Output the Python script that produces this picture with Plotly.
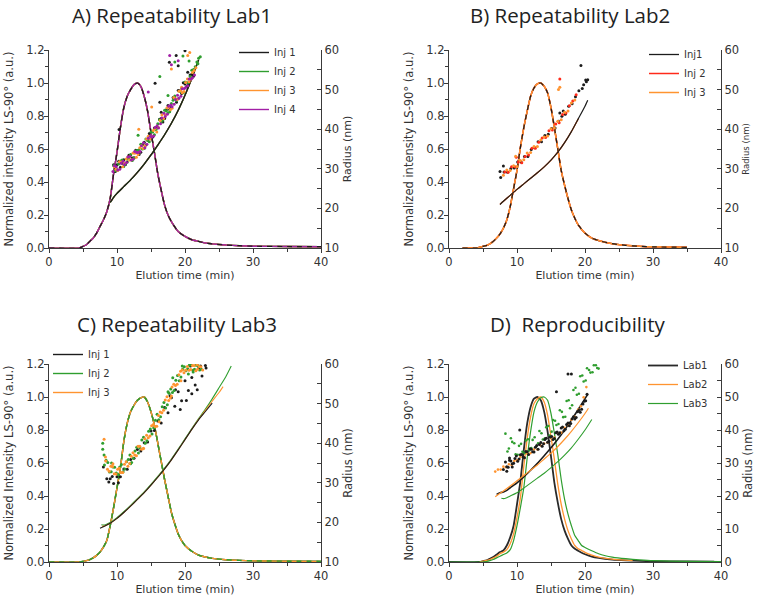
import plotly.graph_objects as go

W, H = 758, 598
BLACK = '#1c1c1c'
GREEN = '#2f9e2f'
ORANGE = '#ff9430'
PURPLE = '#a21fa6'
RED = '#ff2a1a'
AXC = '#3a3a3a'
TXT = '#333333'
FONT = 'DejaVu Sans'
TFONT = 'Open Sans'

# ---------------- Panel A : Repeatability Lab1 ----------------
A_PEAK_T = [0, 4.5, 5, 5.5, 6, 6.5, 7, 7.5, 8, 8.5, 9, 9.5, 10, 10.5, 11, 11.5, 12, 12.5, 13, 13.5,
            14, 14.5, 15, 15.5, 16, 16.5, 17, 17.5, 18, 19, 20, 21, 22, 23, 24, 26, 28, 30, 35, 40]
A_PEAK = [0, 0, 0.01, 0.02, 0.04, 0.06, 0.09, 0.13, 0.17, 0.22, 0.30, 0.45, 0.58, 0.73, 0.85, 0.92, 0.96, 0.99, 1.0, 0.98,
          0.92, 0.83, 0.70, 0.58, 0.45, 0.35, 0.26, 0.20, 0.16, 0.10, 0.07, 0.05, 0.04, 0.03, 0.025, 0.018, 0.014, 0.011, 0.009, 0.008]
A_RLINE_T = [9.0, 9.5, 10, 11, 12, 13, 14, 15, 16, 17, 18, 19, 20, 21, 22]
A_RLINE = [21.5, 22.8, 23.8, 25.5, 27.2, 29.1, 31.2, 33.5, 36.0, 38.6, 41.5, 44.8, 48.6, 52.8, 57.5]

A_INJ1_T = [9.5, 10, 10.5, 11, 11.5, 12, 12.5, 13, 13.5, 14, 14.5, 15, 15.5, 16, 16.5, 17, 17.5, 18, 18.5, 19, 19.5, 20, 20.5, 21,
            9.75, 10.25, 10.75, 11.25, 11.75, 12.25, 12.75, 13.25, 13.75, 14.25, 14.75, 15.25, 15.75, 16.25, 16.75, 17.25,
            17.75, 18.25, 18.75, 19.25, 19.75, 20.25, 20.75, 21.25,
            10.3, 15.6, 16.3, 16.5, 17.7, 18.7, 19.0, 20.0, 20.4]
A_INJ1_R = [31.0, 31.0, 30.4, 32.3, 31.7, 33.5, 32.8, 34.6, 34.2, 36.7, 37.2, 37.6, 40.3, 40.4, 42.7, 42.7, 46.0, 45.7, 47.9, 49.8, 49.0, 51.4, 51.4, 53.8,
            29.3, 31.9, 31.4, 31.1, 33.4, 32.7, 34.7, 33.6, 36.1, 36.0, 38.9, 38.0, 40.4, 42.5, 41.8, 44.9,
            45.0, 48.0, 46.8, 49.7, 51.7, 50.8, 53.7, 53.4,
            39.9, 51.6, 46.8, 44.3, 56.9, 58.6, 56.0, 59.8, 54.4]
A_INJ2_T = [9.75, 10.25, 10.75, 11.25, 11.75, 12.25, 12.75, 13.25, 13.75, 14.25, 14.75, 15.25, 15.75, 16.25, 16.75, 17.25, 17.75,
            18.25, 18.75, 19.25, 19.75, 20.25, 20.75, 21.25, 21.75, 22.25,
            9.5, 10, 10.5, 11, 11.5, 12, 12.5, 13, 13.5, 14, 14.5, 15, 15.5, 16, 16.5, 17, 17.5, 18, 18.5, 19, 19.5, 20,
            20.5, 21, 21.5, 22,
            16.3, 18.5, 19.7, 20.6, 13.1, 17.5, 21.9]
A_INJ2_R = [29.5, 31.2, 32.2, 31.2, 32.7, 32.1, 34.5, 34.8, 35.0, 37.5, 36.8, 39.3, 39.9, 42.4, 42.3, 44.6, 44.4,
            47.3, 47.3, 49.5, 49.2, 51.7, 53.3, 55.1, 57.0, 58.3,
            30.8, 29.8, 32.0, 30.6, 32.5, 33.6, 32.7, 34.6, 36.2, 35.1, 37.3, 39.3, 38.6, 41.4, 41.9, 44.8, 44.1, 46.5, 48.4, 47.7, 50.4, 51.9,
            51.8, 54.9, 55.8, 57.9,
            53.3, 57.0, 58.5, 57.2, 38.5, 48.5, 56.5]
A_INJ3_T = [9.6, 10.1, 10.6, 11.1, 11.6, 12.1, 12.6, 13.1, 13.6, 14.1, 14.6, 15.1, 15.6, 16.1, 16.6, 17.1, 17.6, 18.1, 18.6,
            19.1, 19.6, 20.1, 20.6, 21.1, 21.6,
            9.85, 10.35, 10.85, 11.35, 11.85, 12.35, 12.85, 13.35, 13.85, 14.35, 14.85, 15.35, 15.85, 16.35, 16.85, 17.35,
            17.85, 18.35, 18.85, 19.35, 19.85, 20.35, 20.85, 21.35,
            13.2, 20.4, 20.7, 15.1, 18.0, 19.5]
A_INJ3_R = [30.5, 29.6, 31.7, 31.4, 33.0, 32.3, 33.9, 33.6, 35.8, 35.8, 38.2, 38.1, 40.2, 40.4, 43.6, 43.6, 45.6, 45.3, 47.7,
            49.6, 49.2, 51.8, 52.0, 54.3, 55.5,
            29.9, 31.8, 30.5, 32.5, 32.2, 34.0, 32.9, 35.3, 35.1, 37.5, 37.5, 39.7, 39.3, 42.2, 42.7, 45.4,
            44.9, 48.0, 47.5, 49.7, 49.5, 52.7, 52.6, 54.8,
            40.0, 58.6, 59.4, 45.6, 55.2, 50.6]
A_INJ4_T = [9.4, 9.9, 10.4, 10.9, 11.4, 11.9, 12.4, 12.9, 13.4, 13.9, 14.4, 14.9, 15.4, 15.9, 16.4, 16.9, 17.4, 17.9, 18.4,
            18.9, 19.4, 19.9, 20.4, 20.9, 21.4,
            9.6, 10.1, 10.6, 11.1, 11.6, 12.1, 12.6, 13.1, 13.6, 14.1, 14.6, 15.1, 15.6, 16.1, 16.6, 17.1, 17.6, 18.1,
            18.6, 19.1, 19.6, 20.1, 20.6, 21.1,
            14.6, 17.75, 19.0, 18.0]
A_INJ4_R = [29.3, 30.5, 29.9, 31.9, 31.6, 33.1, 32.5, 34.1, 34.4, 36.6, 36.2, 38.2, 38.3, 40.9, 41.4, 44.0, 43.8, 46.1, 46.3,
            48.6, 48.3, 50.3, 51.0, 52.7, 53.7,
            30.8, 29.7, 31.4, 31.1, 33.0, 32.2, 34.4, 34.1, 35.8, 35.3, 37.7, 38.0, 40.4, 40.3, 42.8, 43.2, 45.8, 45.7,
            47.5, 47.8, 50.2, 50.5, 52.7, 53.0,
            49.4, 58.6, 57.3, 56.3]

# ---------------- Panel B : Repeatability Lab2 ----------------
B_PEAK_T = [2, 4, 5, 5.5, 6, 6.5, 7, 7.5, 8, 8.5, 9, 9.5, 10, 10.5, 11, 11.5, 12, 12.5, 13, 13.5,
            14, 14.5, 15, 15.5, 16, 16.5, 17, 17.5, 18, 18.5, 19, 20, 21, 22, 24, 26, 28, 30, 35]
B_PEAK = [0, 0, 0.01, 0.015, 0.025, 0.04, 0.06, 0.085, 0.12, 0.17, 0.25, 0.36, 0.47, 0.61, 0.73, 0.83, 0.92, 0.97, 0.995, 1.0,
          0.98, 0.94, 0.85, 0.73, 0.6, 0.47, 0.38, 0.30, 0.23, 0.18, 0.14, 0.09, 0.06, 0.045, 0.026, 0.016, 0.01, 0.007, 0.004]
B_RLINE_T = [7.5, 8, 9, 10, 11, 12, 13, 14, 15, 16, 17, 18, 19, 20, 20.4]
B_RLINE = [21.0, 21.8, 23.3, 24.8, 26.2, 27.6, 29.0, 30.5, 32.2, 34.2, 36.6, 39.4, 42.6, 45.8, 47.3]

B_INJ1_T = [7.6, 8.1, 8.6, 9.1, 9.6, 10.1, 10.6, 11.1, 11.6, 12.1, 12.6, 13.1, 13.6, 14.1, 14.6, 15.1, 15.6, 16.1, 16.6,
            17.1, 17.6, 18.1, 18.6, 19.1, 19.6, 20.1,
            7.5, 8.0, 19.4, 16.3, 16.8, 20.4, 20.2, 19.8]
B_INJ1_R = [27.8, 29.2, 29.1, 30.1, 30.2, 31.7, 31.7, 33.1, 33.1, 34.9, 35.3, 36.8, 36.8, 38.4, 38.7, 40.2, 40.3, 42.0, 43.3,
            43.8, 45.8, 46.4, 48.2, 49.7, 50.3, 52.4,
            29.3, 30.7, 56.1, 44.1, 44.6, 52.5, 52.0, 51.2]
B_INJ2_T = [8.2, 8.7, 9.2, 9.7, 10.2, 10.7, 11.2, 11.7, 12.2, 12.7, 13.2, 13.7, 14.2, 14.7, 15.2, 15.7, 16.2, 16.7, 17.2,
            17.7, 18.2, 18.7, 16.3, 9.9]
B_INJ2_R = [29.2, 29.1, 30.5, 30.5, 31.7, 31.5, 33.1, 33.5, 35.2, 35.2, 36.7, 37.8, 37.9, 39.6, 39.8, 41.3, 41.6, 43.7, 44.1,
            45.9, 47.1, 48.7, 52.7, 32.9]
B_INJ3_T = [8.0, 8.5, 9.0, 9.5, 10.0, 10.5, 11.0, 11.5, 12.0, 12.5, 13.0, 13.5, 14.0, 14.5, 15.0, 15.5, 16.0, 16.5, 17.0,
            17.5, 18.0, 18.5, 16.3, 16.1, 9.8]
B_INJ3_R = [28.4, 29.7, 29.6, 30.8, 30.6, 32.1, 32.3, 34.0, 34.1, 35.6, 35.6, 37.3, 38.0, 38.3, 40.1, 40.3, 42.0, 42.4, 44.3,
            44.6, 46.6, 47.4, 50.6, 50.0, 33.2]

# ---------------- Panel C : Repeatability Lab3 ----------------
C_PEAK_T = [0, 4.5, 5, 5.5, 6, 6.5, 7, 7.5, 8, 8.5, 9, 9.5, 10, 10.5, 11, 11.5, 12, 12.5, 13, 13.5, 14, 14.5,
            15, 15.5, 16, 16.5, 17, 17.5, 18, 18.5, 19, 19.5, 20, 21, 22, 23, 24, 26, 28, 30, 32, 35, 40]
C_PEAK = [0, 0, 0.003, 0.008, 0.015, 0.025, 0.04, 0.06, 0.09, 0.13, 0.22, 0.33, 0.45, 0.57, 0.73, 0.84, 0.91, 0.95, 0.98, 0.995, 1.0, 0.97,
          0.91, 0.83, 0.72, 0.61, 0.50, 0.40, 0.30, 0.23, 0.17, 0.13, 0.10, 0.065, 0.042, 0.03, 0.022, 0.014, 0.01, 0.007, 0.006, 0.005, 0.004]
C_RLINE1_T = [7.5, 8, 9, 10, 11, 12, 13, 14, 15, 16, 17, 18, 19, 20, 21, 22, 23, 24]
C_RLINE1 = [18.5, 18.9, 19.8, 21.0, 22.5, 24.1, 25.8, 27.5, 29.4, 31.4, 33.5, 35.8, 38.3, 40.9, 43.5, 45.9, 48.0, 50.1]
C_RLINE2_T = [7.7, 8, 9, 10, 11, 12, 13, 14, 15, 16, 17, 18, 19, 20, 21, 22, 23, 24, 25, 26, 26.8]
C_RLINE2 = [19.4, 19.3, 20.0, 21.2, 22.7, 24.3, 26.0, 27.7, 29.6, 31.6, 33.7, 36.0, 38.5, 41.1, 43.7, 46.2, 48.6, 51.2, 54.0, 56.8, 59.5]
C_RLINE3_T = [7.8, 8, 9, 10, 11, 12, 13, 14, 15, 16, 17, 18, 19, 20, 21, 22, 23, 24, 25, 25.6]
C_RLINE3 = [19.0, 19.0, 19.8, 21.0, 22.5, 24.1, 25.8, 27.5, 29.4, 31.4, 33.5, 35.8, 38.3, 40.9, 43.5, 46.0, 48.3, 50.6, 52.8, 54.3]

C_INJ1_T = [8.0, 8.5, 9.0, 9.5, 10.0, 10.5, 11.0, 11.5, 12.0, 12.5, 13.0, 13.5, 14.0, 14.5, 15.0, 15.5, 16.0, 16.5, 17.0, 17.5,
            18.0, 18.5, 19.0, 19.5, 20.0, 20.5, 21.0, 21.5, 22.0, 22.5, 23.0,
            8.8, 9.3, 10.2, 17.8, 18.6, 19.3, 20.2, 21.0, 21.8, 22.3, 23.1, 20.8]
C_INJ1_R = [34.0, 31.0, 31.0, 29.8, 31.5, 31.5, 33.5, 33.4, 35.9, 36.2, 38.4, 38.0, 40.1, 40.3, 43.1, 43.2, 45.6, 45.1, 49.0, 47.7,
            51.5, 49.3, 53.0, 50.7, 55.8, 53.3, 56.6, 54.7, 58.9, 57.0, 59.6,
            30.2, 31.6, 30.0, 52.0, 53.5, 48.5, 50.8, 52.5, 53.5, 59.5, 59.0, 59.5]
C_INJ2_T = [7.9, 8.4, 8.9, 9.4, 9.9, 10.4, 10.9, 11.4, 11.9, 12.4, 12.9, 13.4, 13.9, 14.4, 14.9, 15.4, 15.9, 16.4, 16.9, 17.4,
            17.9, 18.4, 18.9, 19.4, 19.9, 20.4, 20.9, 21.4, 21.9, 22.4,
            8.15, 8.65, 9.15, 9.65, 10.15, 10.65, 11.15, 11.65, 12.15, 12.65, 13.15, 13.65, 14.15, 14.65, 15.15, 15.65,
            16.15, 16.65, 17.15, 17.65, 18.15, 18.65, 19.15, 19.65, 20.15, 20.65, 21.15, 21.65, 22.15,
            7.9, 8.1, 9.2, 12.0, 17.5, 18.2, 19.6, 20.5, 21.2, 22.0]
C_INJ2_R = [40.0, 35.7, 32.7, 34.0, 32.5, 34.0, 32.8, 35.3, 37.0, 36.2, 39.0, 38.7, 41.5, 40.6, 43.6, 43.9, 47.3, 46.7, 50.3, 49.7,
            53.7, 53.3, 57.1, 56.7, 59.3, 58.8, 59.8, 58.7, 59.6, 58.7,
            34.5, 35.1, 32.8, 33.9, 32.1, 34.6, 33.5, 35.9, 35.1, 38.0, 37.5, 40.8, 40.0, 43.0, 42.3, 45.8,
            45.9, 49.2, 48.9, 52.6, 52.8, 55.9, 55.8, 58.7, 58.3, 59.7, 58.4, 59.7, 58.5,
            38.5, 37.0, 35.0, 34.8, 53.0, 56.5, 59.5, 57.5, 58.0, 59.5]
C_INJ3_T = [8.1, 8.6, 9.1, 9.6, 10.1, 10.6, 11.1, 11.6, 12.1, 12.6, 13.1, 13.6, 14.1, 14.6, 15.1, 15.6, 16.1, 16.6, 17.1, 17.6,
            18.1, 18.6, 19.1, 19.6, 20.1, 20.6, 21.1, 21.6, 22.1, 22.6,
            8.35, 8.85, 9.35, 9.85, 10.35, 10.85, 11.35, 11.85, 12.35, 12.85, 13.35, 13.85, 14.35, 14.85, 15.35, 15.85,
            16.35, 16.85, 17.35, 17.85, 18.35, 18.85, 19.35, 19.85, 20.35, 20.85, 21.35, 21.85, 22.35,
            8.3, 9.4, 13.9, 16.2, 18.0, 19.4, 21.8]
C_INJ3_R = [41.0, 33.4, 34.2, 32.3, 33.4, 32.6, 34.7, 34.2, 36.7, 37.0, 39.2, 38.5, 41.1, 41.4, 44.4, 44.2, 47.0, 47.7, 50.9, 50.8,
            54.2, 54.6, 57.3, 58.5, 58.4, 58.4, 59.6, 58.3, 59.4, 58.5,
            35.5, 32.9, 34.1, 32.2, 33.7, 32.6, 35.3, 34.9, 37.6, 36.8, 39.2, 38.6, 42.0, 41.8, 44.7, 44.3,
            47.9, 48.3, 51.7, 51.4, 54.9, 54.9, 58.2, 57.8, 59.4, 58.6, 59.6, 58.7, 59.3,
            36.5, 34.8, 38.7, 45.4, 51.9, 55.8, 59.9]

# ---------------- Panel D : Reproducibility ----------------
D_PEAK1_T = [0, 4.5, 5, 5.5, 6, 6.5, 7, 7.5, 8, 8.5, 9, 9.5, 10, 10.5, 11, 11.5, 12, 12.5, 13, 13.5, 14, 14.5,
             15, 15.5, 16, 16.5, 17, 17.5, 18, 18.5, 19, 19.5, 20, 21, 22, 24, 26, 28, 30, 35, 39]
D_PEAK1 = [0, 0, 0.005, 0.01, 0.02, 0.03, 0.045, 0.06, 0.07, 0.1, 0.15, 0.22, 0.35, 0.49, 0.68, 0.84, 0.94, 0.99, 1.0, 0.98, 0.91, 0.79,
           0.64, 0.48, 0.36, 0.26, 0.19, 0.14, 0.10, 0.08, 0.068, 0.056, 0.047, 0.033, 0.025, 0.015, 0.01, 0.007, 0.005, 0.003, 0.002]
D_PEAK2_T = [4.5, 5, 6, 7, 7.5, 8, 8.5, 9, 9.5, 10, 10.5, 11, 11.5, 12, 12.5, 13, 13.5, 14, 14.5, 15, 15.5, 16, 16.5,
             17, 17.5, 18, 18.5, 19, 19.5, 20, 21, 22, 24, 26, 27]
D_PEAK2 = [0, 0.005, 0.015, 0.035, 0.05, 0.06, 0.075, 0.11, 0.17, 0.27, 0.39, 0.58, 0.75, 0.88, 0.96, 0.99, 1.0, 0.97, 0.89, 0.76, 0.62, 0.47, 0.35,
           0.26, 0.19, 0.14, 0.10, 0.08, 0.07, 0.058, 0.042, 0.03, 0.018, 0.011, 0.008]
D_PEAK3_T = [0, 5, 5.5, 6, 6.5, 7, 7.5, 8, 8.5, 9, 9.5, 10, 10.5, 11, 11.5, 12, 12.5, 13, 13.5, 14, 14.5, 15, 15.5, 16, 16.5,
             17, 17.5, 18, 18.5, 19, 19.5, 20, 21, 22, 23, 24, 26, 28, 30, 35, 40]
D_PEAK3 = [0, 0, 0.003, 0.008, 0.015, 0.025, 0.035, 0.045, 0.055, 0.075, 0.13, 0.22, 0.33, 0.45, 0.63, 0.79, 0.91, 0.97, 0.995, 1.0, 0.98, 0.9, 0.78, 0.65, 0.5,
           0.38, 0.29, 0.22, 0.16, 0.13, 0.10, 0.088, 0.068, 0.05, 0.038, 0.03, 0.02, 0.013, 0.008, 0.004, 0.003]

D_RLINE1_T = [7.0, 7.5, 8, 8.5, 9, 10, 11, 12, 13, 14, 15, 16, 17, 18, 19, 20, 20.4]
D_RLINE1 = [20.5, 21.0, 21.2, 21.7, 22.5, 24.0, 25.8, 27.8, 29.9, 32.2, 34.6, 37.2, 40.0, 43.0, 46.2, 49.5, 50.8]
D_RLINE2_T = [6.8, 8, 9, 10, 11, 12, 13, 14, 15, 16, 17, 18, 19, 20, 20.5]
D_RLINE2 = [19.8, 21.5, 23.0, 24.6, 26.2, 27.8, 29.4, 31.2, 33.0, 35.0, 37.2, 39.6, 42.2, 45.0, 46.6]
D_RLINE3_T = [7.7, 8, 8.5, 9, 10, 11, 12, 13, 14, 15, 16, 17, 18, 19, 20, 21]
D_RLINE3 = [19.3, 19.2, 19.5, 20.0, 21.0, 22.4, 23.9, 25.4, 26.9, 28.6, 30.4, 32.4, 34.6, 37.2, 40.0, 43.2]

D_LAB1_T = [8.3, 8.7, 9.1, 9.5, 9.9, 10.3, 10.7, 11.1, 11.5, 11.9, 12.3, 12.7, 13.1, 13.5, 13.9, 14.3, 14.7, 15.1, 15.5, 15.9,
            16.3, 16.7, 17.1, 17.5, 17.9, 18.3, 18.7, 19.1, 19.5, 19.9, 20.3,
            8.5, 8.9, 9.3, 9.7, 10.1, 10.5, 10.9, 11.3, 11.7, 12.1, 12.5, 12.9, 13.3, 13.7, 14.1, 14.5, 14.9, 15.3, 15.7,
            16.1, 16.5, 16.9, 17.3, 17.7, 18.1, 18.5, 18.9, 19.3, 19.7, 20.1,
            8.0, 8.5, 8.9, 9.3, 10.4, 15.8, 17.5, 18.0]
D_LAB1_R = [30.3, 28.7, 30.6, 29.9, 32.1, 31.2, 32.6, 31.6, 33.4, 34.3, 33.4, 34.8, 34.2, 36.2, 35.8, 37.5, 36.6, 38.0, 37.4, 39.4,
            39.2, 40.9, 40.2, 42.1, 42.0, 44.0, 43.8, 46.0, 46.3, 48.7, 50.8,
            28.9, 30.8, 29.8, 31.4, 30.5, 32.5, 31.8, 33.5, 32.6, 34.2, 33.3, 35.3, 35.6, 35.1, 37.1, 36.3, 37.9, 37.1, 39.2,
            38.7, 40.6, 39.8, 41.7, 41.3, 43.4, 43.3, 45.5, 45.4, 47.9, 48.9,
            28.0, 27.5, 31.5, 28.8, 40.0, 51.6, 57.0, 57.0]
D_LAB2_T = [6.8, 7.2, 7.6, 8.0, 8.4, 8.8, 9.2, 9.6, 10.0, 10.5, 11.0, 11.5, 12.0, 12.5, 13.0, 13.5, 14.0, 14.5, 15.0, 15.5,
            16.0, 16.5, 17.0, 17.5, 18.0, 18.5, 19.0, 19.4, 19.8, 20.2]
D_LAB2_R = [27.4, 28.0, 28.0, 28.9, 28.7, 29.6, 29.4, 30.6, 30.8, 31.8, 31.7, 32.8, 33.0, 34.1, 34.1, 35.3, 35.9, 36.2, 37.6, 37.7,
            39.0, 39.2, 40.7, 41.5, 43.1, 44.0, 46.2, 47.2, 49.9, 53.0]
D_LAB3_T = [8.3, 8.8, 9.3, 9.8, 10.3, 10.8, 11.3, 11.8, 12.3, 12.8, 13.3, 13.8, 14.3, 14.8, 15.3, 15.8, 16.3, 16.8, 17.3, 17.8,
            18.3, 18.8, 19.3, 19.8, 20.3, 20.8, 21.3, 21.8,
            8.6, 9.1, 9.6, 10.1, 10.6, 11.1, 11.6, 12.1, 12.6, 13.1, 13.6, 14.1, 14.6, 15.1, 15.6, 16.1, 16.6, 17.1, 17.6, 18.1,
            18.6, 19.1, 19.6, 20.1, 20.6, 21.1, 21.6, 22.0]
D_LAB3_R = [38.9, 34.4, 36.4, 32.6, 35.2, 33.4, 36.8, 33.8, 37.0, 34.9, 39.7, 37.1, 40.8, 38.3, 43.0, 41.5, 46.0, 43.9, 48.8, 46.6,
            52.1, 50.7, 56.3, 54.7, 58.7, 57.4, 59.6, 58.8,
            33.5, 37.5, 36.0, 32.5, 35.8, 33.0, 37.2, 34.5, 37.8, 36.0, 39.0, 37.5, 41.2, 39.5, 42.8, 41.8, 45.5, 44.0, 49.0, 47.5,
            52.8, 51.0, 56.5, 55.0, 58.2, 57.5, 59.6, 58.6]

TITLES = ['A) Repeatability Lab1', 'B) Repeatability Lab2', 'C) Repeatability Lab3', 'D)  Reproducibility']
LEFT_TITLES = ['Normalized intensity LS-90° (a.u.)', 'Normalized intensity LS-90° (a.u.)',
               'Normalized Intensity LS-90° (a.u.)', 'Normalized Intensity LS-90° (a.u.)']
X_TITLE = 'Elution time (min)'
R_TITLE = 'Radius (nm)'

fig = go.Figure()


def refs(p):
    xa = 'x' if p == 1 else f'x{p}'
    ya = 'y' if p == 1 else f'y{2 * p - 1}'
    yr = f'y{2 * p}'
    return xa, ya, yr


def leg(p):
    return 'legend' if p == 1 else f'legend{p}'


def peak(p, t, v, color, name=None, width=1.4, dash=None):
    xa, ya, _ = refs(p)
    fig.add_trace(go.Scatter(x=t, y=v, mode='lines', name=name or '', legend=leg(p), showlegend=name is not None,
                             line=dict(color=color, width=width, shape='spline', smoothing=0.5, dash=dash),
                             xaxis=xa, yaxis=ya, hoverinfo='skip'))


def rline(p, t, r, color, width=1.1):
    xa, _, yr = refs(p)
    fig.add_trace(go.Scatter(x=t, y=r, mode='lines', showlegend=False,
                             line=dict(color=color, width=width, shape='spline', smoothing=0.5),
                             xaxis=xa, yaxis=yr, hoverinfo='skip'))


def dots(p, t, r, color, size=3):
    xa, _, yr = refs(p)
    fig.add_trace(go.Scatter(x=t, y=r, mode='markers', showlegend=False,
                             marker=dict(color=color, size=size, line=dict(width=0)),
                             xaxis=xa, yaxis=yr, hoverinfo='skip'))


# Panel A
A_SERIES = [('Inj 1', BLACK, A_INJ1_T, A_INJ1_R), ('Inj 2', GREEN, A_INJ2_T, A_INJ2_R),
            ('Inj 3', ORANGE, A_INJ3_T, A_INJ3_R), ('Inj 4', PURPLE, A_INJ4_T, A_INJ4_R)]
for name, col, st, sr in A_SERIES:
    peak(1, A_PEAK_T, A_PEAK, col, name)
peak(1, A_PEAK_T, A_PEAK, BLACK, width=1.2, dash='5px,5px')
for name, col, st, sr in reversed(A_SERIES):
    rline(1, A_RLINE_T, A_RLINE, col, width=1.3)
for name, col, st, sr in A_SERIES:
    dots(1, st, sr, col)

# Panel B
peak(2, B_PEAK_T, B_PEAK, BLACK, 'Inj1', width=1.3)
peak(2, B_PEAK_T, B_PEAK, RED, 'Inj 2', width=1.5)
peak(2, B_PEAK_T, B_PEAK, ORANGE, 'Inj 3', width=1.5)
peak(2, B_PEAK_T, B_PEAK, BLACK, width=1.2, dash='5px,5px')
rline(2, B_RLINE_T[:13], B_RLINE[:13], RED)
rline(2, B_RLINE_T[:13], B_RLINE[:13], ORANGE)
rline(2, B_RLINE_T, B_RLINE, BLACK, width=1.2)
dots(2, B_INJ1_T, B_INJ1_R, BLACK)
dots(2, B_INJ2_T, B_INJ2_R, RED)
dots(2, B_INJ3_T, B_INJ3_R, ORANGE)

# Panel C
peak(3, C_PEAK_T, C_PEAK, BLACK, 'Inj 1')
peak(3, C_PEAK_T, C_PEAK, GREEN, 'Inj 2')
peak(3, C_PEAK_T, C_PEAK, ORANGE, 'Inj 3')
peak(3, C_PEAK_T, C_PEAK, GREEN, width=1.4, dash='5px,5px')
rline(3, C_RLINE2_T, C_RLINE2, GREEN)
rline(3, C_RLINE3_T, C_RLINE3, ORANGE)
rline(3, C_RLINE1_T, C_RLINE1, BLACK)
dots(3, C_INJ1_T, C_INJ1_R, BLACK)
dots(3, C_INJ2_T, C_INJ2_R, GREEN)
dots(3, C_INJ3_T, C_INJ3_R, ORANGE)

# Panel D
peak(4, D_PEAK1_T, D_PEAK1, '#2a2a2a', 'Lab1', width=1.8)
peak(4, D_PEAK2_T, D_PEAK2, ORANGE, 'Lab2', width=1.3)
peak(4, D_PEAK3_T, D_PEAK3, GREEN, 'Lab3', width=1.2)
rline(4, D_RLINE1_T, D_RLINE1, BLACK, width=1.6)
rline(4, D_RLINE2_T, D_RLINE2, ORANGE, width=1.2)
rline(4, D_RLINE3_T, D_RLINE3, GREEN, width=1.1)
dots(4, D_LAB3_T, D_LAB3_R, GREEN, size=2.6)
dots(4, D_LAB2_T, D_LAB2_R, ORANGE, size=2.6)
dots(4, D_LAB1_T, D_LAB1_R, BLACK, size=3)


# --------- layout (positions given in window pixels) ---------
def px_x(x):
    return x / W


def px_y(y):
    return 1 - y / H


def xdom(a, b):
    return [px_x(a), px_x(b)]


def ydom(top, bottom):
    return [px_y(bottom), px_y(top)]


PANELS = [
    (xdom(49, 321), ydom(50, 248), [10, 60], 11),
    (xdom(449, 721), ydom(50, 248), [10, 60], 8.5),
    (xdom(49, 321), ydom(364, 562), [10, 60], 11.5),
    (xdom(449, 721), ydom(364, 562), [0, 60], 11.5),
]

tickfont = dict(family=FONT, size=11.5, color=TXT)
titlefont = dict(family=FONT, size=11.5, color=TXT)
xtitlefont = dict(family=FONT, size=11, color=TXT)
base = dict(showline=True, linecolor=AXC, linewidth=1.2, showgrid=False, zeroline=False,
            tickwidth=1.1, tickcolor=AXC, tickfont=tickfont)

layout = dict(width=W, height=H, margin=dict(l=0, r=0, t=0, b=0, autoexpand=False),
              paper_bgcolor='white', plot_bgcolor='rgba(0,0,0,0)', showlegend=True)

for i, (xd, yd, rr, rsize) in enumerate(PANELS):
    p = i + 1
    xa, ya, yr = refs(p)
    xk = 'xaxis' if p == 1 else f'xaxis{p}'
    lk = 'yaxis' if p == 1 else f'yaxis{2 * p - 1}'
    rk = f'yaxis{2 * p}'
    layout[xk] = dict(domain=xd, anchor=ya, range=[0, 40], tick0=0, dtick=10, ticks='outside', ticklen=4,
                      ticklabelstandoff=-1,
                      minor=dict(dtick=5, ticks='outside', ticklen=2.5, tickcolor=AXC),
                      title=dict(text=X_TITLE, font=xtitlefont, standoff=2), **base)
    layout[lk] = dict(domain=yd, anchor=xa, range=[0, 1.2], tick0=0, dtick=0.2, tickformat='.1f',
                      ticks='outside', ticklen=4, ticklabelstandoff=-3,
                      minor=dict(dtick=0.1, ticks='outside', ticklen=2.5, tickcolor=AXC),
                      title=dict(text=LEFT_TITLES[i], font=titlefont, standoff=10), **base)
    layout[rk] = dict(overlaying=ya, side='right', anchor=xa, range=rr, tick0=0, dtick=10,
                      ticks='inside', ticklen=4,
                      minor=dict(dtick=5, ticks='inside', ticklen=4, tickcolor=AXC),
                      title=dict(text=R_TITLE, font=dict(family=FONT, size=rsize, color=TXT), standoff=5),
                      **base)

legfont = dict(family=FONT, size=10, color=TXT)
LEG_POS = [(234, 38), (644, 40), (48, 340), (643, 351)]
for i, (lx, ly) in enumerate(LEG_POS):
    layout[leg(i + 1)] = dict(x=px_x(lx), y=px_y(ly), xanchor='left', yanchor='top', bgcolor='rgba(0,0,0,0)',
                              font=legfont, tracegroupgap=0, itemwidth=30, borderwidth=0)

TITLE_POS = [(172, 15), (570, 15), (177, 324), (577, 324)]
layout['annotations'] = [dict(text=TITLES[i], x=px_x(TITLE_POS[i][0]), y=px_y(TITLE_POS[i][1]),
                              xref='paper', yref='paper', showarrow=False, xanchor='center', yanchor='middle',
                              font=dict(family=TFONT, size=20.5, color='#222222')) for i in range(4)]

fig.update_layout(**layout)
# no mode bar; remove the browser's default 8px body margin so the figure fills the window exactly
fig.write_html("out.html", config={'displayModeBar': False},
               post_script="document.body.style.margin='0px';")
